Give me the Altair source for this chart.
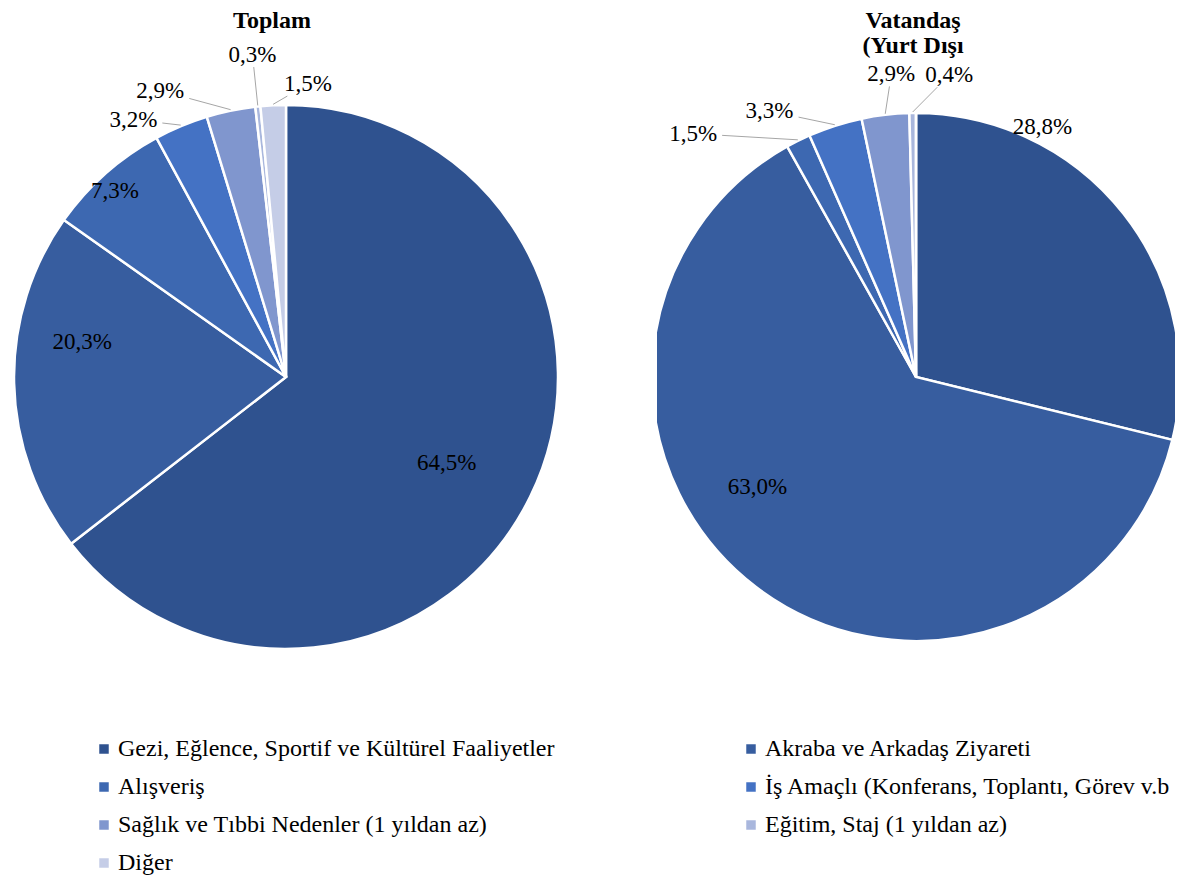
import altair as alt
import pandas as pd

# ---------------- data ----------------
categories = [
    "Gezi, Eğlence, Sportif ve Kültürel Faaliyetler",
    "Akraba ve Arkadaş Ziyareti",
    "Alışveriş",
    "İş Amaçlı (Konferans, Toplantı, Görev v.b)",
    "Sağlık ve Tıbbi Nedenler (1 yıldan az)",
    "Eğitim, Staj (1 yıldan az)",
    "Diğer",
]
toplam = [64.5, 20.3, 7.3, 3.2, 2.9, 0.3, 1.5]
vatandas = [28.8, 63.0, 1.5, 3.3, 2.9, 0.4, 0.0]
titles = [["Toplam"], ["Vatandaş", "(Yurt Dışı"]]

# ---------------- style / layout ----------------
colors = ["#2F528F", "#375D9F", "#3D68B1", "#4472C4", "#8096CE", "#A9B7DD", "#C5CDE7"]
FONT = "Liberation Serif"
# label placement (angle nudge in degrees, radius as fraction of pie radius)
label_shift = {
    "toplam": [2, 11, -1, -8, -12, 0, 7],
    "vatandas": [-25, 18, -16, -11, 2, 7, 0],
}
label_rf = {
    "toplam": [0.67, 0.76, 0.93, 1.10, 1.15, 1.19, 1.08],
    "vatandas": [1.06, 0.73, 1.25, 1.15, 1.15, 1.15, 1.10],
}

H = 738


def pie(key, values, title_lines, W, R, title_dx, clip):
    cx, cy = W / 2, H / 2
    df = pd.DataFrame({
        "cat": categories,
        "v": values,
        "idx": list(range(len(categories))),
        "shift": label_shift[key],
        "rf": label_rf[key],
    })
    base = alt.Chart(df)
    color = alt.Color(
        "cat:N",
        scale=alt.Scale(domain=categories, range=colors),
        sort=categories,
        legend=alt.Legend(
            title=None, orient="none", legendX=84, legendY=729, columns=2,
            direction="horizontal",
            columnPadding=184, rowPadding=14, symbolType="square", symbolSize=90,
            symbolStrokeWidth=0, labelFont=FONT, labelFontSize=24, labelColor="#000000",
            labelLimit=1000, labelOffset=2,
            # the page edge cuts the last characters of the longest right-column entry
            labelExpr="indexof(datum.label, 'Görev') > 0 ? slice(datum.label, 0, 41) : datum.label",
        ),
    )
    arcs = base.mark_arc(outerRadius=R, stroke="white", strokeWidth=2.5, clip=clip).encode(
        theta=alt.Theta("v:Q", stack=True),
        color=color,
        order=alt.Order("idx:Q", sort="ascending"),
    )
    lab = base.transform_joinaggregate(total="sum(v)").transform_window(
        cum="sum(v)", sort=[alt.SortField("idx")], frame=[None, 0]
    ).transform_calculate(
        mid="(datum.cum - datum.v/2)/datum.total*2*PI",
    ).transform_calculate(
        la="datum.mid + datum.shift*PI/180",
        lr=f"{R}*datum.rf",
        label="replace(format(datum.v, '.1f'), '.', ',') + '%'",
    ).transform_calculate(
        lx=f"{cx} + datum.lr*sin(datum.la)",
        ly=f"{cy} - datum.lr*cos(datum.la)",
        sx=f"{cx} + {R + 1}*sin(datum.mid)",
        sy=f"{cy} - {R + 1}*cos(datum.mid)",
    ).transform_calculate(
        t="min(29/abs(datum.sx - datum.lx + 1e-9), 12/abs(datum.sy - datum.ly + 1e-9))",
    ).transform_calculate(
        ex="datum.lx + datum.t*(datum.sx - datum.lx)",
        ey="datum.ly + datum.t*(datum.sy - datum.ly)",
    ).transform_filter("datum.v > 0")

    texts = lab.mark_text(font=FONT, fontSize=23, color="#000000", baseline="middle", align="center").encode(
        x=alt.X("lx:Q", scale=None, axis=None),
        y=alt.Y("ly:Q", scale=None, axis=None),
        text="label:N",
    )
    lines = lab.transform_filter("datum.v < 5").mark_rule(color="#A6A6A6", strokeWidth=1).encode(
        x=alt.X("ex:Q", scale=None, axis=None),
        y=alt.Y("ey:Q", scale=None, axis=None),
        x2="sx:Q",
        y2="sy:Q",
    )
    ttl = alt.Chart(alt.Data(values=[{"k": 0}])).mark_text(
        text=title_lines, font=FONT, fontSize=24, fontWeight="bold", color="#000000",
        baseline="alphabetic", align="center", lineHeight=25,
    ).encode(x=alt.value(cx + title_dx), y=alt.value(20))
    return alt.layer(arcs, lines, texts, ttl).properties(width=W, height=H).resolve_scale(theta="independent")


left = pie("toplam", toplam, titles[0], 556, 272, -14, False)
right = pie("vatandas", vatandas, titles[1], 518, 264, -3, True)

chart = alt.hconcat(left, right, spacing=93).resolve_scale(
    color="shared", theta="independent"
).properties(
    padding=0, background="white"
).configure_view(stroke=None)

chart.save("out.html", embed_options={"renderer": "svg", "actions": False})
